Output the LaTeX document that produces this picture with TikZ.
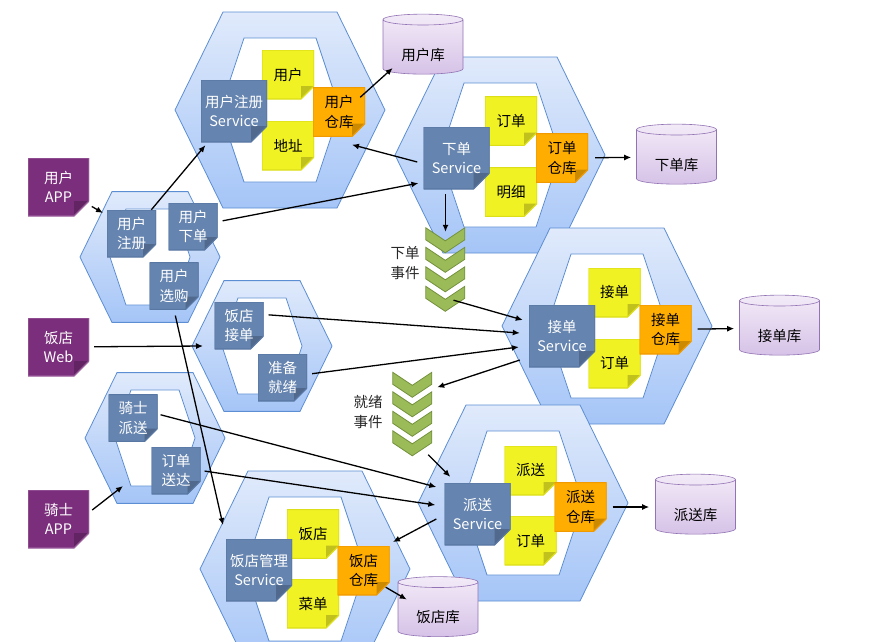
\documentclass[tikz,border=0pt]{standalone}
\usepackage{fontspec}
\setmainfont{Noto Sans CJK SC}
\usetikzlibrary{arrows.meta,shapes.geometric,calc}

\definecolor{svcblue}{HTML}{6584AF}
\definecolor{svcedge}{HTML}{5877A3}
\definecolor{entyellow}{HTML}{F0F224}
\definecolor{entedge}{HTML}{DCDE18}
\definecolor{repoorange}{HTML}{FFAD00}
\definecolor{repoedge}{HTML}{F09A00}
\definecolor{clientpurple}{HTML}{7B2E7C}
\definecolor{clientedge}{HTML}{9A5C9B}
\definecolor{dbtop}{HTML}{F3EBF8}
\definecolor{dbbody}{HTML}{D6C2E7}
\definecolor{dbedge}{HTML}{9273B4}
\definecolor{hexlight}{HTML}{E0EAFB}
\definecolor{hexdark}{HTML}{A5C5F7}
\definecolor{hexedge}{HTML}{5C8ED3}
\definecolor{evgreen}{HTML}{9BBB59}
\definecolor{evedge}{HTML}{74913C}

\tikzset{
  % note with a folded corner: fill, edge, fold size
  note/.style n args={3}{rectangle, inner sep=0pt, align=center,
    font=\fontsize{14.5}{19.5}\selectfont,
    path picture={
      \fill[#1] (path picture bounding box.north west) -- (path picture bounding box.north east)
        -- ([yshift=#3]path picture bounding box.south east) -- ([xshift=-#3]path picture bounding box.south east)
        -- (path picture bounding box.south west) -- cycle;
      \fill[black, opacity=.2] ([xshift=-#3]path picture bounding box.south east)
        -- ([yshift=#3]path picture bounding box.south east)
        -- ([xshift=-#3,yshift=#3]path picture bounding box.south east) -- cycle;
      \draw[#2, line width=1.2pt] (path picture bounding box.north west) -- (path picture bounding box.north east)
        -- ([yshift=#3]path picture bounding box.south east) -- ([xshift=-#3]path picture bounding box.south east)
        -- (path picture bounding box.south west) -- cycle;
    }},
  svcbox/.style={note={svcblue}{svcedge}{16pt}, text=white,
    minimum width=66pt, minimum height=62pt},
  gwbox/.style={note={svcblue}{svcedge}{13pt}, text=white,
    minimum width=49pt, minimum height=47pt},
  entbox/.style={note={entyellow}{entedge}{13pt},
    minimum width=52pt, minimum height=49pt},
  repobox/.style={note={repoorange}{repoedge}{13pt},
    minimum width=52pt, minimum height=49pt},
  clientbox/.style={note={clientpurple}{clientedge}{15pt}, text=white,
    minimum width=61pt, minimum height=58pt},
  dbcyl/.style={cylinder, shape border rotate=90, aspect=0.25,
    draw=dbedge, line width=0.6pt, top color=dbtop, bottom color=dbbody,
    minimum width=80pt, minimum height=60pt, inner sep=0pt,
    text height=29pt, text depth=3pt,
    font=\fontsize{14.5}{19.5}\selectfont},
  hexouter/.style={draw=hexedge, line width=0.8pt, top color=hexlight, bottom color=hexdark},
  hexinner/.style={draw=hexedge, line width=0.8pt, fill=white},
  evstack/.style={minimum width=39pt, minimum height=84pt, inner sep=0pt},
  evchev/.style={fill=evgreen, draw=evedge, line width=0.8pt},
  evlabel/.style={align=center, text=black!85, font=\fontsize{14.5}{19.5}\selectfont},
  arr/.style={-{Latex[length=7pt,width=6pt]}, line width=1.3pt},
}

% one hexagonal cell: centre x, centre y, scale
\newcommand{\hexcell}[3]{%
  \begin{scope}[shift={(#1,#2)}, scale=#3]
    \path[hexouter] (-105,0) -- (-57,-98) -- (57,-98) -- (105,0) -- (57,98) -- (-57,98) -- cycle;
    \path[hexinner] (-60,0) -- (-36,-72) -- (36,-72) -- (60,0) -- (36,72) -- (-36,72) -- cycle;
  \end{scope}}

\begin{document}
\begin{tikzpicture}[x=1pt, y=-1pt]
  \useasboundingbox (0,0) rectangle (890,641);

  % cells
  \hexcell{280}{110}{1}
  \hexcell{500}{155}{1}
  \hexcell{607}{326}{1}
  \hexcell{523}{503}{1}
  \hexcell{305}{569}{1}
  \hexcell{150}{257}{.667}
  \hexcell{262}{346}{.667}
  \hexcell{155}{438}{.667}

  % user cell
  \node[entbox] (uuser) at (288,74.5) {用户};
  \node[entbox] (uaddr) at (288,145.5) {地址};
  \node[svcbox] (uregsvc) at (234,111) {用户注册\\Service};
  \node[repobox] (urepo) at (339,112) {用户\\仓库};
  \node[dbcyl] (udb) at (423,47) {用户库};

  % order cell
  \node[entbox] (oorder) at (511,121) {订单};
  \node[entbox] (odetail) at (511,192) {明细};
  \node[svcbox] (ordsvc) at (456.5,158) {下单\\Service};
  \node[repobox] (orepo) at (562,158) {订单\\仓库};
  \node[dbcyl] (odb) at (676.5,157) {下单库};

  % accept cell
  \node[entbox] (ttake) at (614.5,292.5) {接单};
  \node[entbox] (torder) at (614.5,363.5) {订单};
  \node[svcbox] (takesvc) at (562,336) {接单\\Service};
  \node[repobox] (trepo) at (665.5,329.5) {接单\\仓库};
  \node[dbcyl] (tdb) at (779.5,328) {接单库};

  % delivery cell
  \node[entbox] (ddlv) at (530.5,470.5) {派送};
  \node[entbox] (dorder) at (530.5,540.5) {订单};
  \node[svcbox] (dlvsvc) at (477.5,514) {派送\\Service};
  \node[repobox] (drepo) at (580.5,507) {派送\\仓库};
  \node[dbcyl] (ddb) at (695.5,507) {派送库};

  % restaurant cell
  \node[entbox] (rshop) at (313,534) {饭店};
  \node[entbox] (rmenu) at (313,603.5) {菜单};
  \node[svcbox] (rmgrsvc) at (259,570) {饭店管理\\Service};
  \node[repobox] (rrepo) at (363.5,570.5) {饭店\\仓库};
  \node[dbcyl] (rdb) at (438,609.5) {饭店库};

  % gateways
  \node[gwbox] (gureg) at (131.5,233.5) {用户\\注册};
  \node[gwbox] (guord) at (193,226.5) {用户\\下单};
  \node[gwbox] (gusel) at (174,286) {用户\\选购};
  \node[gwbox] (grtake) at (239,325.5) {饭店\\接单};
  \node[gwbox] (grready) at (282.5,377.5) {准备\\就绪};
  \node[gwbox] (grider) at (133,418) {骑士\\派送};
  \node[gwbox] (gdone) at (176,470.5) {订单\\送达};

  % clients
  \node[clientbox] (uapp) at (58.5,187) {用户\\APP};
  \node[clientbox] (rweb) at (58.5,347) {饭店\\Web};
  \node[clientbox] (rapp) at (58.5,519) {骑士\\APP};

  % events
  \node[evstack] (evord) at (445.5,270) {};
  \node[evstack] (evready) at (412.5,414.5) {};
  \foreach \k in {0,...,3} {
    \path[evchev, shift={($(evord.north west)+(0,\k*19.5)$)}]
      (0,0) -- (19.5,13) -- (39,0) -- (39,12) -- (19.5,25) -- (0,12) -- cycle;
    \path[evchev, shift={($(evready.north west)+(0,\k*19.5)$)}]
      (0,0) -- (19.5,13) -- (39,0) -- (39,12) -- (19.5,25) -- (0,12) -- cycle;
  }
  \node[evlabel] (evordlbl) at (405,263) {下单\\事件};
  \node[evlabel] (evreadylbl) at (368,412) {就绪\\事件};

  % free ends on the cells
  \coordinate (uhexin) at (103,213);
  \coordinate (rhexin) at (203,346);
  \coordinate (dhexin) at (123,486);
  \coordinate (mhexin) at (223,525);
  \coordinate (mhexout) at (393,542);

  % client calls
  \draw[arr, shorten <=3pt] (uapp) -- (uhexin);
  \draw[arr, shorten <=5pt] (rweb) -- (rhexin);
  \draw[arr] ([xshift=3pt,yshift=9pt]rapp.east) -- (dhexin);

  % gateway calls
  \draw[arr, shorten >=4pt] (gureg) -- (uregsvc);
  \draw[arr, shorten <=5pt, shorten >=5pt] (guord) -- ([yshift=7pt]ordsvc.south west);
  \draw[arr, shorten <=6pt] (gusel.south) -- (mhexin);
  \draw[arr, shorten <=5pt] ([yshift=11pt]grtake.east) -- ([xshift=-9pt,yshift=3pt]takesvc.west);
  \draw[arr, shorten <=5pt] (grready) -- ([xshift=-10pt,yshift=-11pt]takesvc.west);
  \draw[arr, shorten <=3pt] ([yshift=4pt]grider.east) -- ([xshift=-8pt,yshift=27pt]dlvsvc.west);
  \draw[arr, shorten <=4pt] (gdone.east) -- ([xshift=-9pt,yshift=9pt]dlvsvc.west);

  % service calls and events
  \draw[arr] ([xshift=-6pt,yshift=-4pt]ordsvc.west) -- ([xshift=13pt,yshift=-8pt]urepo.south);
  \draw[arr, shorten <=5pt] (ordsvc.south -| evord.north) -- ([yshift=-4pt]evord.north);
  \draw[arr] ([xshift=8pt,yshift=12pt]evord.south) -- ([xshift=-6pt,yshift=16pt]takesvc.west);
  \draw[arr] ([xshift=-9pt,yshift=-24pt]takesvc.west) -- ([xshift=5pt,yshift=-15pt]evready.north east);
  \draw[arr] ([xshift=-4pt,yshift=2pt]evready.south east) -- ([xshift=6pt,yshift=6pt]dlvsvc.north west);
  \draw[arr] ([xshift=-8pt,yshift=-5pt]dlvsvc.west) -- (mhexout);

  % repositories to databases
  \draw[arr] ([xshift=-5pt,yshift=-10pt]urepo.north east) -- ([xshift=10pt,yshift=-21pt]udb.west);
  \draw[arr, shorten <=7pt, shorten >=5pt] (orepo) -- (odb);
  \draw[arr, shorten <=6pt, shorten >=5pt] (trepo) -- (tdb);
  \draw[arr, shorten <=6pt, shorten >=6pt] (drepo) -- (ddb);
  \draw[arr] ([xshift=-4pt,yshift=8pt]rrepo.south east) -- ([xshift=9pt,yshift=10pt]rdb.west);
\end{tikzpicture}
\end{document}
